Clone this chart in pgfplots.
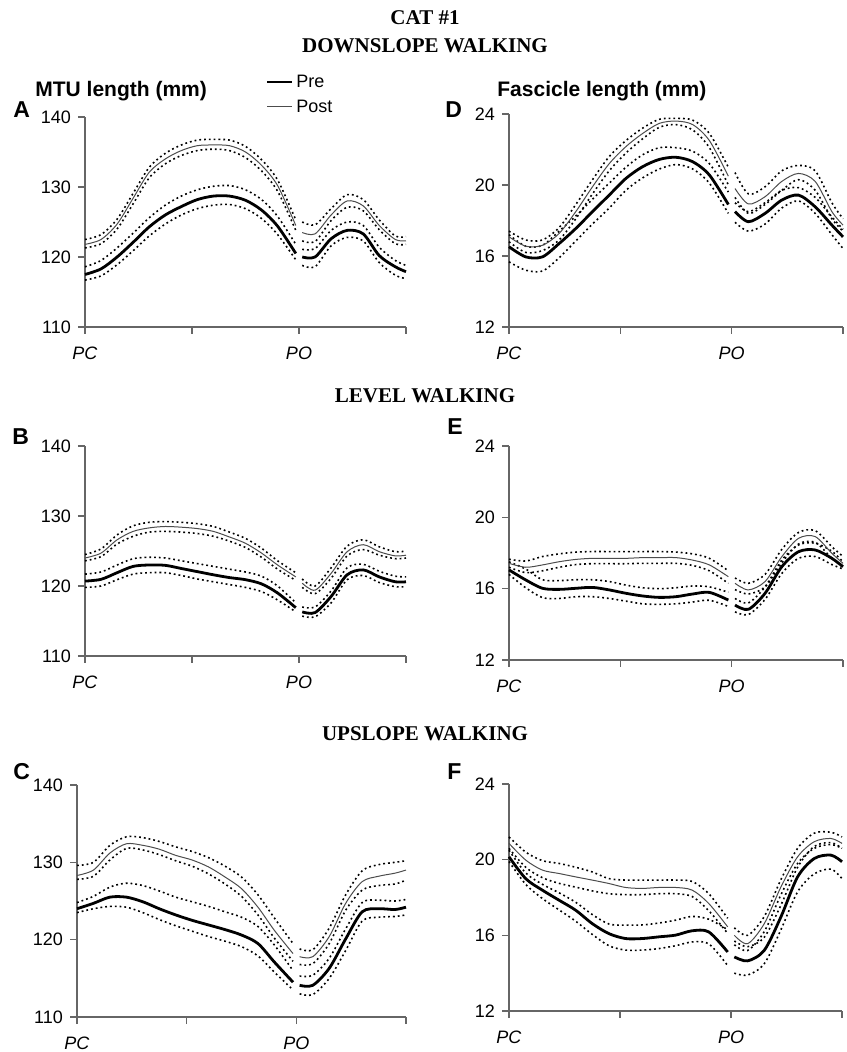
\documentclass[border=0pt]{standalone}
\usepackage{pgfplots}
\pgfplotsset{compat=1.18}
\usepackage{pgfplotstable}
\usepackage{fontspec}
\setmainfont{Liberation Sans}
\newfontfamily\titlefont{Liberation Serif}

% columns: x, Pre mean, Pre +SD, Pre -SD, Post mean, Post +SD, Post -SD
\pgfplotstableread{
x    pre   preu  prel  post  postu postl
0    117.5 118.6 116.7 121.8 122.5 121.3
0.15 118.3 119.5 117.3 122.5 123.2 121.9
0.3  120.0 121.3 118.9 124.7 125.4 124.0
0.45 122.1 123.4 120.9 128.4 129.1 127.6
0.6  124.3 125.6 123.0 132.1 132.8 131.3
0.75 126.0 127.4 124.7 134.0 134.8 133.3
0.9  127.2 128.7 126.0 135.2 136.0 134.5
1.05 128.2 129.6 126.9 135.9 136.7 135.2
1.2  128.7 130.1 127.4 136.0 136.8 135.4
1.35 128.7 130.2 127.5 135.9 136.7 135.2
1.5  128.1 129.6 126.9 135.0 135.8 134.2
1.65 126.7 128.2 125.5 133.1 133.9 132.3
1.8  124.4 125.8 123.2 130.2 131.0 129.4
1.97 120.5 121.8 119.6 124.5 125.3 123.8
2    nan   nan   nan   nan   nan   nan
2.03 120.0 121.1 118.8 123.5 125.0 122.3
2.15 120.0 121.2 118.6 123.3 124.6 122.2
2.3  122.6 123.8 121.6 126.0 126.9 125.2
2.45 123.8 125.0 122.8 128.0 128.9 127.1
2.6  123.3 124.5 122.3 127.3 128.2 126.6
2.75 120.2 121.4 119.2 124.5 125.3 123.9
2.9  118.6 119.5 117.4 122.5 123.0 121.9
3.0  117.9 118.8 116.9 122.3 122.9 121.8
}\dataA

\pgfplotstableread{
x    pre   preu  prel  post  postu postl
0    16.52 17.20 15.67 17.08 17.40 16.80
0.15 15.95 16.55 15.20 16.55 16.90 16.20
0.3  15.95 16.60 15.15 16.60 16.90 16.30
0.45 16.70 17.40 15.90 17.27 17.60 16.90
0.6  17.55 18.25 16.85 18.50 18.90 18.10
0.75 18.50 19.20 17.80 19.90 20.30 19.50
0.9  19.43 20.10 18.70 21.20 21.60 20.80
1.05 20.37 21.00 19.70 22.16 22.50 21.80
1.2  21.03 21.70 20.40 22.90 23.20 22.60
1.35 21.44 22.10 20.90 23.47 23.70 23.25
1.5  21.56 22.10 21.15 23.60 23.75 23.40
1.65 21.31 21.90 20.90 23.40 23.65 23.10
1.8  20.56 21.20 20.10 22.50 22.90 22.10
1.97 18.90 19.60 18.40 20.50 21.00 20.00
2    nan   nan   nan   nan   nan   nan
2.03 18.50 19.00 17.90 19.80 20.70 19.30
2.15 17.93 18.50 17.40 18.93 19.50 18.40
2.3  18.40 19.00 17.80 19.34 19.90 18.90
2.45 19.15 19.70 18.70 20.20 20.80 19.70
2.6  19.43 19.85 19.10 20.65 21.10 20.30
2.75 18.77 19.30 18.40 20.20 20.80 19.70
2.9  17.74 18.20 17.20 18.50 19.00 18.10
3.0  17.08 17.50 16.42 17.74 18.10 17.40
}\dataD

\pgfplotstableread{
x    pre    preu  prel  post  postu postl
0    120.7  121.7 119.8 124.0 124.5 123.6
0.15 120.95 122.0 120.0 124.7 125.3 124.2
0.3  121.9  123.0 120.9 126.6 127.3 126.0
0.45 122.8  123.9 121.7 127.8 128.6 127.1
0.6  123.0  124.1 121.9 128.3 129.1 127.7
0.75 122.95 124.0 121.9 128.5 129.2 127.8
0.9  122.5  123.6 121.5 128.4 129.1 127.7
1.05 122.05 123.2 121.0 128.2 128.9 127.5
1.2  121.6  122.8 120.6 127.8 128.5 127.1
1.35 121.2  122.4 120.2 127.0 127.7 126.4
1.5  120.9  122.0 119.8 126.1 126.8 125.5
1.65 120.3  121.4 119.2 124.7 125.4 124.1
1.8  119.0  120.0 118.0 123.0 123.6 122.4
1.97 116.9  117.6 116.3 121.3 121.9 120.8
2    nan    nan   nan   nan   nan   nan
2.03 116.3  117.0 115.7 120.4 121.0 119.8
2.15 116.2  117.0 115.6 119.4 120.0 118.9
2.3  118.5  119.3 117.6 121.8 122.6 121.1
2.45 121.6  122.6 120.9 124.9 125.7 124.3
2.6  122.3  123.1 121.5 125.9 126.6 125.2
2.75 121.3  122.1 120.5 124.9 125.6 124.4
2.9  120.6  121.4 119.9 124.3 124.9 123.9
3.0  120.6  121.3 119.9 124.4 125.0 124.0
}\dataB

\pgfplotstableread{
x    pre   preu  prel  post  postu postl
0    17.05 17.50 16.80 17.42 17.65 17.20
0.15 16.49 17.10 16.05 17.20 17.55 16.90
0.3  16.02 16.50 15.50 17.33 17.80 17.00
0.45 15.96 16.45 15.45 17.51 17.95 17.20
0.6  16.02 16.50 15.55 17.64 18.05 17.35
0.75 16.07 16.50 15.55 17.70 18.08 17.40
0.9  15.93 16.40 15.45 17.70 18.08 17.40
1.05 15.74 16.20 15.30 17.70 18.08 17.40
1.2  15.59 16.05 15.15 17.74 18.08 17.42
1.35 15.51 16.00 15.12 17.74 18.08 17.42
1.5  15.55 16.05 15.15 17.74 18.05 17.42
1.65 15.70 16.15 15.25 17.60 17.95 17.30
1.8  15.79 16.10 15.35 17.33 17.70 17.00
1.97 15.36 15.80 15.00 16.67 17.00 16.30
2    nan   nan   nan   nan   nan   nan
2.03 15.08 15.45 14.70 16.30 16.60 15.95
2.15 14.84 15.20 14.55 15.93 16.30 15.70
2.3  15.74 16.10 15.40 16.40 16.80 16.10
2.45 17.23 17.60 16.85 17.79 18.20 17.45
2.6  18.07 18.45 17.70 18.82 19.15 18.50
2.75 18.17 18.55 17.80 18.92 19.25 18.60
2.9  17.70 18.10 17.35 17.98 18.35 17.70
3.0  17.23 17.50 17.10 17.42 17.80 17.20
}\dataE

\pgfplotstableread{
x    pre   preu  prel  post  postu postl
0    124.0 124.8 123.5 128.3 129.6 127.8
0.15 124.7 125.6 124.0 129.0 130.0 128.2
0.3  125.5 126.8 124.3 131.2 132.2 130.3
0.45 125.5 127.3 124.2 132.4 133.3 131.8
0.6  124.9 127.0 123.5 132.2 133.2 131.6
0.75 124.0 126.3 122.6 131.7 132.7 131.0
0.9  123.2 125.5 121.8 130.9 132.0 130.2
1.05 122.5 124.9 121.1 130.3 131.4 129.5
1.2  121.9 124.3 120.4 129.4 130.6 128.5
1.35 121.3 123.6 119.8 128.1 129.5 127.2
1.5  120.6 122.9 119.1 126.6 128.1 125.6
1.65 119.5 121.7 117.9 124.2 125.8 123.2
1.8  117.1 119.3 115.8 121.2 122.8 120.2
1.97 114.5 116.0 113.5 118.2 119.5 117.2
2    nan   nan   nan   nan   nan   nan
2.03 114.1 115.3 113.0 117.8 118.8 116.8
2.15 114.1 115.4 112.9 117.8 118.7 116.9
2.3  116.3 117.6 115.0 120.4 121.5 119.5
2.45 120.1 121.4 118.6 124.7 125.8 123.8
2.6  123.6 124.8 122.4 127.5 128.9 126.4
2.75 124.0 125.1 122.9 128.2 129.7 127.0
2.9  123.9 125.0 123.0 128.6 130.0 127.2
3.0  124.2 125.2 123.2 129.0 130.2 127.7
}\dataC

\pgfplotstableread{
x    pre   preu  prel  post  postu postl
0    20.15 20.50 19.90 20.86 21.20 20.60
0.15 19.00 19.30 18.70 19.98 20.40 19.60
0.3  18.39 18.70 17.95 19.45 19.95 19.05
0.45 17.86 18.25 17.35 19.27 19.80 18.75
0.6  17.33 17.75 16.75 19.09 19.60 18.55
0.75 16.62 17.10 16.05 18.92 19.35 18.35
0.9  16.09 16.60 15.45 18.74 19.00 18.20
1.05 15.83 16.54 15.22 18.53 18.92 18.15
1.2  15.83 16.55 15.22 18.48 18.92 18.15
1.35 15.92 16.65 15.30 18.53 18.92 18.20
1.5  16.01 16.80 15.45 18.53 18.92 18.20
1.65 16.24 17.00 15.65 18.39 18.85 18.05
1.8  16.18 16.85 15.55 17.68 18.20 17.30
1.97 15.12 16.30 14.40 16.45 16.90 16.10
2    nan   nan   nan   nan   nan   nan
2.03 14.86 15.70 14.00 16.00 16.40 15.50
2.15 14.65 15.40 13.90 15.56 16.00 15.20
2.3  15.21 15.90 14.50 16.62 17.00 16.20
2.45 16.98 17.60 16.30 18.56 18.95 18.15
2.6  19.09 19.60 18.30 20.15 20.60 19.80
2.75 20.06 20.70 19.25 20.95 21.40 20.60
2.9  20.24 20.90 19.50 21.12 21.45 20.80
3.0  19.89 20.60 19.00 20.86 21.20 20.60
}\dataF

\pgfplotsset{
  panel/.style={
    scale only axis, anchor=south west,
    xmin=0, xmax=3,
    axis x line*=bottom, axis y line*=left,
    axis line style={black!60, line width=0.7pt},
    tick style={black!60, line width=0.7pt},
    tick align=outside, major tick length=3.5pt,
    xtick={0,1,2,3}, xticklabels={\textit{PC},{},\textit{PO},{}},
    tick label style={font=\fontsize{9}{10.5}\selectfont},
    xticklabel style={yshift=-3pt},
    /pgf/number format/assume math mode=true,
    unbounded coords=jump, clip=false,
  },
  mtu/.style={ymin=110, ymax=140, ytick={110,120,130,140}},
  fas/.style={ymin=12, ymax=24, ytick={12,16,20,24}},
  band/.style={black, line width=0.8pt, dash pattern=on 0.9pt off 1.5pt, smooth},
  pre/.style={black, line width=1.4pt, smooth},
  post/.style={black!70, line width=0.5pt, smooth},
}

\newcommand{\curves}[1]{%
  \addplot[band] table[x=x, y=postu] {#1};
  \addplot[band] table[x=x, y=postl] {#1};
  \addplot[band] table[x=x, y=preu] {#1};
  \addplot[band] table[x=x, y=prel] {#1};
  \addplot[post] table[x=x, y=post] {#1};
  \addplot[pre] table[x=x, y=pre] {#1};
}

\begin{document}
\begin{tikzpicture}
\useasboundingbox (0,0) rectangle (423pt,526pt);

% titles
\node[font=\titlefont\bfseries\fontsize{10.5}{12}\selectfont, anchor=base] at (212.5pt,513.5pt) {CAT \#1};
\node[font=\titlefont\bfseries\fontsize{10.5}{12}\selectfont, anchor=base] at (212.5pt,499.5pt) {DOWNSLOPE WALKING};
\node[font=\titlefont\bfseries\fontsize{10.5}{12}\selectfont, anchor=base] at (212.5pt,324.5pt) {LEVEL WALKING};
\node[font=\titlefont\bfseries\fontsize{10.5}{12}\selectfont, anchor=base] at (212.5pt,155.5pt) {UPSLOPE WALKING};

\node[font=\bfseries\fontsize{10.5}{12}\selectfont, anchor=base west, inner sep=0pt] at (17.5pt,477.5pt) {MTU length (mm)};
\node[font=\bfseries\fontsize{10.5}{12}\selectfont, anchor=base west, inner sep=0pt] at (248.5pt,477.5pt) {Fascicle length (mm)};

% legend
\draw[black, line width=1.4pt] (133.5pt,485pt) -- (146pt,485pt);
\node[font=\fontsize{9}{10.5}\selectfont, anchor=west, inner sep=0pt] at (148pt,485.5pt) {Pre};
\draw[black!70, line width=0.5pt] (133.5pt,472.5pt) -- (146pt,472.5pt);
\node[font=\fontsize{9}{10.5}\selectfont, anchor=west, inner sep=0pt] at (148pt,473pt) {Post};

% panel letters
\node[font=\bfseries\fontsize{11.5}{13}\selectfont, anchor=base west, inner sep=0pt] at (6.5pt,467pt) {A};
\node[font=\bfseries\fontsize{11.5}{13}\selectfont, anchor=base west, inner sep=0pt] at (222.5pt,467pt) {D};
\node[font=\bfseries\fontsize{11.5}{13}\selectfont, anchor=base west, inner sep=0pt] at (6pt,303.5pt) {B};
\node[font=\bfseries\fontsize{11.5}{13}\selectfont, anchor=base west, inner sep=0pt] at (223.5pt,308.5pt) {E};
\node[font=\bfseries\fontsize{11.5}{13}\selectfont, anchor=base west, inner sep=0pt] at (6.5pt,136pt) {C};
\node[font=\bfseries\fontsize{11.5}{13}\selectfont, anchor=base west, inner sep=0pt] at (223.5pt,136pt) {F};

\begin{axis}[panel, mtu, at={(42.5pt,362.5pt)}, width=160.5pt, height=105pt]
\curves{\dataA}
\end{axis}
\begin{axis}[panel, fas, at={(254.5pt,362.5pt)}, width=167pt, height=106.5pt]
\curves{\dataD}
\end{axis}
\begin{axis}[panel, mtu, at={(42.5pt,198pt)}, width=160.5pt, height=105pt]
\curves{\dataB}
\end{axis}
\begin{axis}[panel, fas, at={(254.5pt,196pt)}, width=167pt, height=107pt]
\curves{\dataE}
\end{axis}
\begin{axis}[panel, mtu, at={(38.5pt,17.5pt)}, width=164.5pt, height=116pt]
\curves{\dataC}
\end{axis}
\begin{axis}[panel, fas, at={(254.5pt,20.5pt)}, width=166.5pt, height=113.5pt]
\curves{\dataF}
\end{axis}
\end{tikzpicture}
\end{document}
